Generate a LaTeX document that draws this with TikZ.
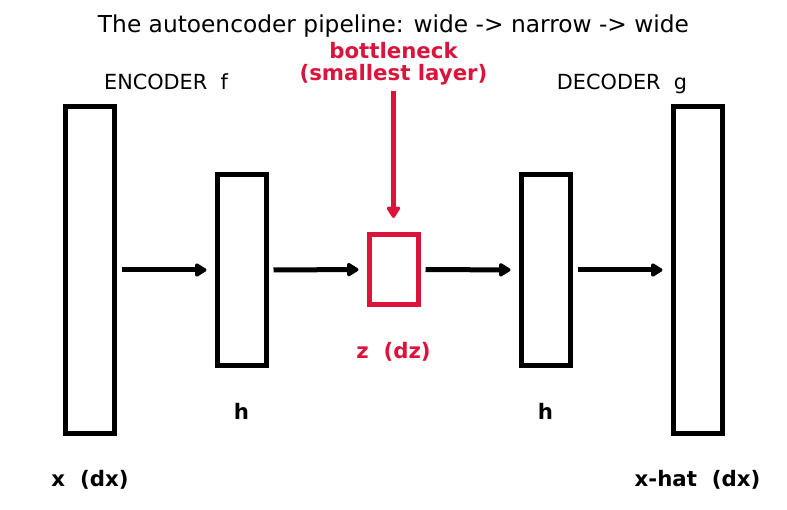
\documentclass[tikz,border=0pt]{standalone}
\usepackage{fontspec}
\setmainfont{DejaVu Sans}
\usetikzlibrary{arrows.meta}
\definecolor{crimson}{RGB}{220,20,60}

\begin{document}
\begin{tikzpicture}[x=1pt, y=-1pt,
		layer/.style={draw, line width=5pt, inner sep=0pt, minimum width=49pt},
		flow/.style={line width=5pt, -{Triangle[length=13pt,width=15pt,round]}, shorten <=5pt, shorten >=8pt},
		dimlabel/.style={anchor=base, font=\fontsize{21.3}{24}\selectfont\bfseries},
		partlabel/.style={anchor=base, font=\fontsize{20.8}{24}\selectfont}]
		\useasboundingbox (0, 0) rectangle (787, 510);
		
		\node[anchor=base, font=\fontsize{23.3}{27}\selectfont] (title) at (393.5, 33) {The autoencoder pipeline: wide -> narrow -> wide};
		\node[partlabel] (enc) at (166, 90) {ENCODER~~f};
		\node[partlabel] (dec) at (622, 90) {DECODER~~g};
		
		\node[layer, minimum height=327pt] (x) at (90, 270)		{};
		\node[layer, minimum height=191pt] (h1) at (241.5, 270)	{};
		\node[layer, minimum height=70pt, draw=crimson] (z) at (393.5, 269.5)	{};
		\node[layer, minimum height=191pt] (h2) at (545.5, 270)	{};
		\node[layer, minimum height=327pt] (xhat) at (697.5, 270)	{};
		
		\node[dimlabel] (xlab) at (90, 486)		{x~~(dx)};
		\node[dimlabel] (h1lab) at (241.5, 419)	{h};
		\node[dimlabel, text=crimson] (zlab) at (393.5, 359)	{z~~(dz)};
		\node[dimlabel] (h2lab) at (545.5, 419)	{h};
		\node[dimlabel] (xhatlab) at (697.5, 486)	{x-hat~~(dx)};
		
		\node[dimlabel, text=crimson] (neck) at (393.5, 59) {bottleneck};
		\node[dimlabel, text=crimson] (neck2) at (393.5, 81) {(smallest layer)};
		\coordinate (neckstart) at (393.5, 91);
		
		\draw[flow] (x) -- (h1);
		\draw[flow] (h1) -- (z);
		\draw[flow] (z) -- (h2);
		\draw[flow] (h2) -- (xhat);
		\draw[flow, crimson, shorten <=0pt, shorten >=14pt] (neckstart) -- (z);
	\end{tikzpicture}
\end{document}
